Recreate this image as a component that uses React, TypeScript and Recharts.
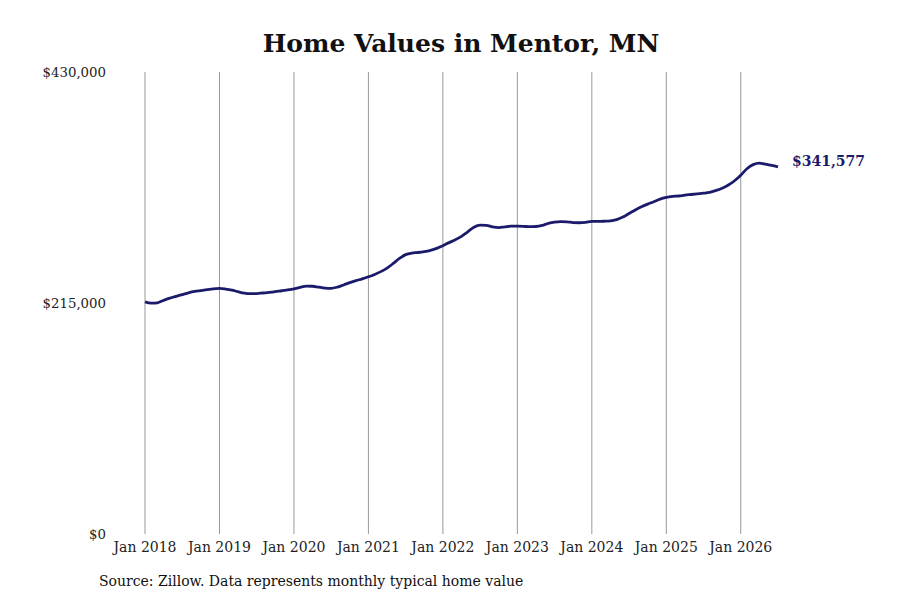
import React from 'react';
import { LineChart, Line, XAxis, YAxis, CartesianGrid, LabelList } from 'recharts';

// typical home value, monthly, Jan 2018 .. Jul 2026
const homeValues = [
  216000, 214800, 215200, 217500, 219500, 221200, 222800, 224500, 225800, 226600, 227400, 228200,
  228600, 228000, 227000, 225500, 224200, 223700, 223800, 224300, 224800, 225500, 226400, 227200,
  228200, 229600, 230700, 230600, 229700, 228900, 228700, 229800, 231800, 233900, 235800, 237500,
  239400, 241600, 244200, 247500, 251800, 256500, 260000, 261500, 262000, 262800, 264000, 265800,
  268300, 271200, 273800, 277000, 281300, 285600, 287500, 287300, 285900, 285200, 285900, 286500,
  286600, 286400, 286000, 286200, 287200, 289100, 290300, 290800, 290500, 289800, 289700, 290100,
  290900, 291000, 291100, 291400, 292600, 295000, 298300, 301600, 304500, 307000, 309300, 311700,
  313300, 314200, 314600, 315400, 316000, 316600, 317200, 318000, 319700, 321800, 324800, 328800,
  334000, 340000, 343800, 345200, 344200, 343000, 341577,
];

const yearLabels = ['Jan 2018', 'Jan 2019', 'Jan 2020', 'Jan 2021', 'Jan 2022', 'Jan 2023', 'Jan 2024', 'Jan 2025', 'Jan 2026'];
const yTicks = [0, 215000, 430000];

const data = homeValues.map((v, i) => ({ t: i, value: v }));
const xTicks = yearLabels.map((_, i) => i * 12);
const lastIdx = homeValues.length - 1;

const font = '"DejaVu Serif", serif';
const navy = '#1b1a6b';

const fmtMoney = (v: number) => '$' + v.toLocaleString('en-US');

const EndLabel = (props: any) => {
  const { x, y, index } = props;
  if (index !== lastIdx) return null;
  return (
    <text x={x + 14} y={y - 1} fill={navy} fontFamily={font} fontSize={14} fontWeight="bold">
      {fmtMoney(homeValues[index])}
    </text>
  );
};

// only the January lines, no line at the right end of the domain
const yearLines = ({ offset }: any) =>
  xTicks.map((t) => offset.left + (t / lastIdx) * offset.width);

export default function App() {
  return (
    <div style={{ position: 'absolute', left: 0, top: 0, width: 900, height: 600, background: '#fff' }}>
      <div
        style={{
          position: 'absolute', top: 31, left: 461, transform: 'translateX(-50%)',
          fontFamily: font, fontSize: 25, fontWeight: 'bold', lineHeight: 1, whiteSpace: 'nowrap', color: '#111',
        }}
      >
        Home Values in Mentor, MN
      </div>
      <LineChart width={900} height={600} data={data} margin={{ top: 72, right: 122, left: 0, bottom: 36 }}>
        <CartesianGrid horizontal={false} stroke="#999" strokeWidth={1} verticalCoordinatesGenerator={yearLines} />
        <XAxis
          dataKey="t"
          type="number"
          domain={[0, lastIdx]}
          ticks={xTicks}
          tickFormatter={(t: number) => yearLabels[t / 12]}
          axisLine={false}
          tickLine={false}
          height={30}
          tick={{ fontFamily: font, fontSize: 14, fill: '#222' }}
        />
        <YAxis
          domain={[0, 430000]}
          ticks={yTicks}
          tickFormatter={fmtMoney}
          axisLine={false}
          tickLine={false}
          width={145}
          tickMargin={33}
          tick={{ fontFamily: font, fontSize: 13.3, fill: '#222' }}
        />
        <Line
          type="monotone"
          dataKey="value"
          stroke={navy}
          strokeWidth={2.8}
          dot={false}
          isAnimationActive={false}
        >
          <LabelList dataKey="value" content={EndLabel} />
        </Line>
      </LineChart>
      <div
        style={{
          position: 'absolute', top: 574, left: 99, fontFamily: font, fontSize: 14,
          lineHeight: 1, whiteSpace: 'nowrap', color: '#111',
        }}
      >
        Source: Zillow. Data represents monthly typical home value
      </div>
    </div>
  );
}
